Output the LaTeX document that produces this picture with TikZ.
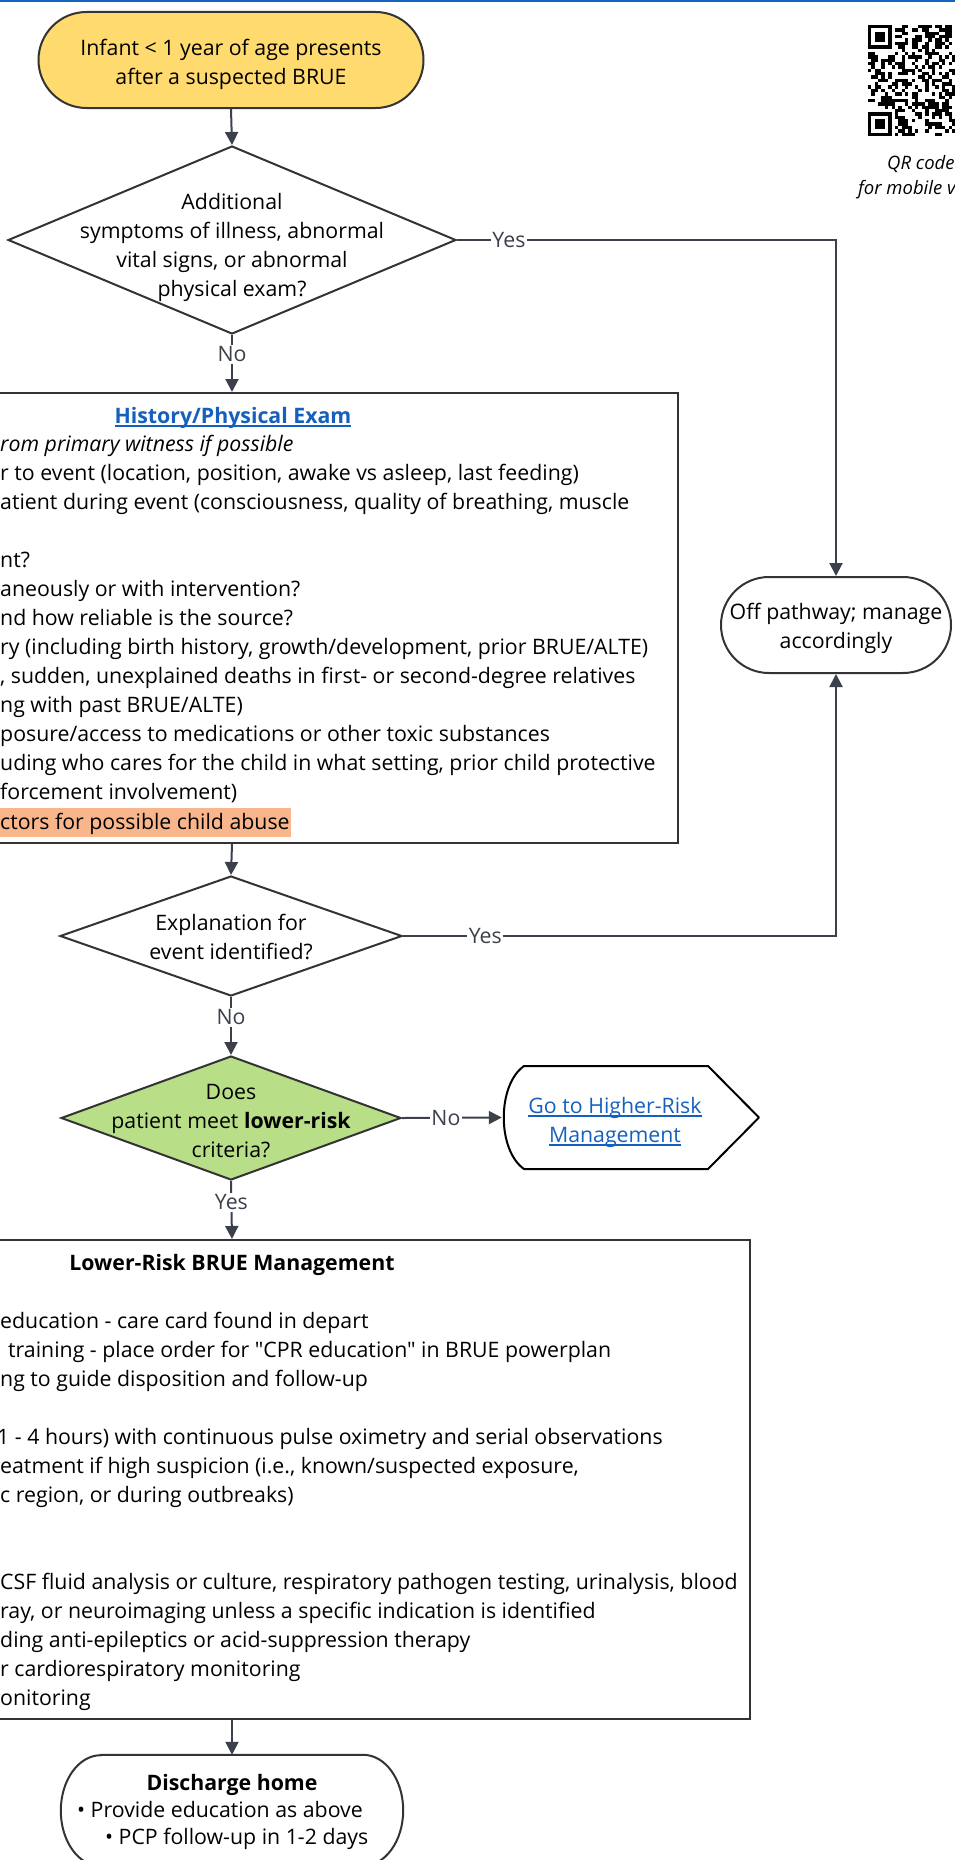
\documentclass[tikz,border=0pt]{standalone}
\usepackage{fontspec}
\setmainfont{Open Sans}[Ligatures=TeXOff]
\usetikzlibrary{arrows.meta,shapes.geometric,calc}
\definecolor{lc}{HTML}{3B404A}
\definecolor{bc}{HTML}{333333}
\definecolor{startfill}{HTML}{FFDA6F}
\definecolor{greenfill}{HTML}{B9DE88}
\definecolor{hlc}{HTML}{F9B68C}
\definecolor{linkc}{HTML}{1560BD}
\definecolor{topblue}{HTML}{1565C0}
\newcommand\myul[1]{\setbox0\hbox{#1}\rlap{\rule[-3.5pt]{\wd0}{1.3pt}}\box0}
\begin{document}
\begin{tikzpicture}[x=1pt,y=-1pt,
  font=\fontsize{21.3}{29}\selectfont,
  shp/.style={draw=bc, line width=2pt},
  arr/.style={draw=lc, line width=2pt, -{Triangle[length=13pt,width=13pt]}},
  lbl/.style={fill=white, inner sep=1.5pt, text=lc},
  txt/.style={align=center, inner sep=0pt},
  ln/.style={anchor=base west, inner sep=0pt},
  dia/.style={shape=diamond, draw=bc, line width=2pt, inner sep=0pt},
]
\useasboundingbox (0,0) rectangle (955,1860);
\clip (0,0) rectangle (955,1860);
\fill[topblue] (0,0) rectangle (955,2.5);

% start
\node[shp, fill=startfill, rounded corners=48pt, minimum width=385pt, minimum height=96pt] (start) at (231,60) {};
\node[txt] (starttxt) at (231,64) {Infant < 1 year of age presents\\after a suspected BRUE};

% diamond 1
\node[dia, fill=white, minimum width=448pt, minimum height=188pt] (d1) at (232,240) {};
\node[txt] (d1txt) at (232,247) {Additional\\symptoms of illness, abnormal\\vital signs, or abnormal\\physical exam?};

% off pathway
\node[shp, rounded corners=48pt, minimum width=230pt, minimum height=96pt] (off) at (836,625) {};
\node[txt] (offtxt) at (836,628) {Off pathway; manage\\accordingly};

% history box
\node[shp, minimum width=892pt, minimum height=450pt] (hist) at (232,618) {};
\node[anchor=base, inner sep=0pt, text=linkc] (histhead) at (233,423) {\bfseries\myul{History/Physical Exam}};
\node[ln] (h0) at (0,451) {\itshape rom primary witness if possible};
\node[ln] (h1) at (0,480) {r to event (location, position, awake vs asleep, last feeding)};
\node[ln] (h2) at (0,509) {atient during event (consciousness, quality of breathing, muscle};
\node[ln] (h4) at (0,567) {nt?};
\node[ln] (h5) at (0,596) {aneously or with intervention?};
\node[ln] (h6) at (0,625) {nd how reliable is the source?};
\node[ln] (h7) at (0,654) {ry (including birth history, growth/development, prior BRUE/ALTE)};
\node[ln] (h8) at (0,683) {, sudden, unexplained deaths in first- or second-degree relatives};
\node[ln] (h9) at (0,712) {ng with past BRUE/ALTE)};
\node[ln] (h10) at (0,741) {posure/access to medications or other toxic substances};
\node[ln] (h11) at (0,770) {uding who cares for the child in what setting, prior child protective};
\node[ln] (h12) at (0,799) {forcement involvement)};
\fill[hlc] (-5,808) rectangle (291,837);
\node[ln] (h13) at (0,829) {ctors for possible child abuse};

% diamond 2
\node[dia, fill=white, minimum width=342pt, minimum height=120pt] (d2) at (231,936) {};
\node[txt] (d2txt) at (231,937) {Explanation for\\event identified?};

% diamond 3
\node[dia, fill=greenfill, minimum width=340pt, minimum height=124pt] (d3) at (231,1118) {};
\node[txt] (d3txt) at (231,1121) {Does\\patient meet \textbf{lower-risk}\\criteria?};

% higher risk
\node[inner sep=0pt, minimum width=257pt, minimum height=103pt] (hr) at (630.5,1117.5) {};
\draw[shp, draw=black, line join=round] (524,1066) -- (708,1066) -- (759,1117.5) -- (708,1169) -- (524,1169) .. controls (497,1150) and (497,1085) .. (524,1066) -- cycle;
\node[txt, text=linkc] (hrtxt) at (615,1122) {\myul{Go to Higher-Risk}\\\myul{Management}};

% lower risk box
\node[shp, minimum width=1036pt, minimum height=479pt] (low) at (232,1479.5) {};
\node[anchor=base, inner sep=0pt] (lowhead) at (232,1270) {\bfseries Lower-Risk BRUE Management};
\node[ln] (l0) at (0,1328) {education - care card found in depart};
\node[ln] (l1) at (8,1357) {training - place order for "CPR education" in BRUE powerplan};
\node[ln] (l2) at (0,1386) {ng to guide disposition and follow-up};
\node[ln] (l4) at (-3,1444) {1 - 4 hours) with continuous pulse oximetry and serial observations};
\node[ln] (l5) at (0,1473) {eatment if high suspicion (i.e., known/suspected exposure,};
\node[ln] (l6) at (0,1502) {c region, or during outbreaks)};
\node[ln] (l9) at (0,1589) {CSF fluid analysis or culture, respiratory pathogen testing, urinalysis, blood};
\node[ln] (l10) at (0,1618) {ray, or neuroimaging unless a specific indication is identified};
\node[ln] (l11) at (0,1647) {ding anti-epileptics or acid-suppression therapy};
\node[ln] (l12) at (0,1676) {r cardiorespiratory monitoring};
\node[ln] (l13) at (0,1705) {onitoring};

% discharge
\node[inner sep=0pt, minimum width=342pt, minimum height=111pt] (dis) at (232,1810.5) {};
\draw[shp] ($(dis.north west)+(40pt,0pt)$) -- ($(dis.north east)+(-40pt,0pt)$)
  arc[start angle=90,end angle=-90,x radius=40pt,y radius=55.5pt]
  -- ($(dis.south west)+(40pt,0pt)$)
  arc[start angle=270,end angle=90,x radius=40pt,y radius=55.5pt] -- cycle;
\node[anchor=base, inner sep=0pt] (dishead) at (232,1790) {\bfseries Discharge home};
\node[ln] (dis1) at (77,1817) {• Provide education as above};
\node[ln] (dis2) at (105,1844) {• PCP follow-up in 1-2 days};

% QR code
\pgfmathsetseed{7}
\foreach \i in {0,...,32}{
  \foreach \j in {0,...,32}{
    \pgfmathsetmacro\rr{rnd}
    \pgfmathtruncatemacro\inF{((\i<8)&&(\j<8))||((\i>24)&&(\j<8))||((\i<8)&&(\j>24))}
    \ifnum\inF=0
      \ifdim\rr pt>0.5pt
        \fill[black] (868+\i*3.36,25+\j*3.36) rectangle ++(3.4,3.4);
      \fi
    \fi
  }
}
\foreach \ox/\oy in {0/0,26/0,0/26}{
  \fill[black] (868+\ox*3.36,25+\oy*3.36) rectangle ++(23.52,23.52);
  \fill[white] (868+\ox*3.36+3.36,25+\oy*3.36+3.36) rectangle ++(16.8,16.8);
  \fill[black] (868+\ox*3.36+6.72,25+\oy*3.36+6.72) rectangle ++(10.08,10.08);
}
\node[ln, font=\fontsize{18.5}{29}\selectfont\itshape] (qr1) at (887,169) {QR code};
\node[ln, font=\fontsize{18.5}{29}\selectfont\itshape] (qr2) at (858,194) {for mobile v};

% connectors
\draw[arr] (start.south) -- (d1.north);
\draw[arr] (d1.east) -- node[lbl,pos=0.137]{Yes} (d1.east -| off.north) -- (off.north);
\draw[arr] (d1.south) -- node[lbl,pos=0.34]{No} (hist.north);
\draw[arr] (hist.south) -- (d2.north);
\draw[arr] (d2.east) -- node[lbl,pos=0.19]{Yes} (d2.east -| off.south) -- (off.south);
\draw[arr] (d2.south) -- node[lbl,pos=0.35]{No} (d3.north);
\draw[arr] (d3.east) -- node[lbl,pos=0.44]{No} (hr.west);
\draw[arr] (d3.south) -- node[lbl,pos=0.37]{Yes} (low.north);
\draw[arr] (low.south) -- (dis.north);
\end{tikzpicture}
\end{document}
